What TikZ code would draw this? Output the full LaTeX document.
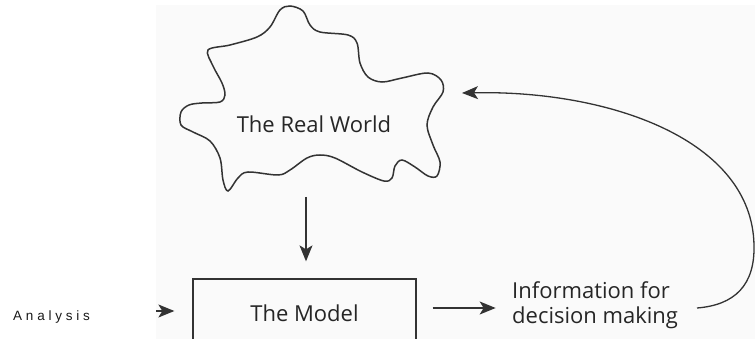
\documentclass[tikz,border=0pt]{standalone}
\usepackage{fontspec}
\setmainfont{Open Sans}
\newfontfamily\anfont[LetterSpace=28]{Liberation Sans}
\usetikzlibrary{arrows.meta}
\begin{document}
\begin{tikzpicture}[x=1pt,y=-1pt,
  ink/.style={draw=black!80, line width=1.3pt},
  arr/.style={ink, -{Stealth[length=16pt,width=13pt,inset=4pt]}},
  lbl/.style={font=\fontsize{22}{25}\selectfont, text=black!85, inner sep=0pt}]
\useasboundingbox (0,0) rectangle (755,339);
\clip (0,0) rectangle (755,339);
\fill[black!2] (156,5) rectangle (755,339);
% cloud
\draw[ink, line width=1.5pt] plot[smooth cycle, tension=0.55] coordinates {
 (290,6) (303,11) (310,25) (320,32) (348,35) (357,43) (360,63) (368,77)
 (382,82) (402,78) (428,73) (441,80) (443,92) (433,107) (427,125) (433,145)
 (440,162) (437,176) (428,176) (415,167) (402,160) (395,166) (392,178)
 (384,181) (362,172) (335,158) (320,155) (307,158) (290,170) (278,175)
 (248,172) (238,178) (228,191) (223,180) (220,158) (210,141) (193,132)
 (181,125) (181,112) (189,105) (202,103) (220,102) (225,95) (222,83)
 (213,66) (208,50) (230,45) (257,37) (270,27) (280,10)};
\node[lbl] (real) at (314,124) {The Real World};
% model
\node[lbl, draw=black!80, line width=1.3pt, minimum width=223pt, minimum height=68pt] (model) at (304.5,313) {The Model};
% info
\node[lbl, align=left, anchor=west] (info) at (512,305) {Information for\\decision making};
% analysis
\node[font=\anfont\fontsize{13.5}{16}\selectfont, text=black!90, anchor=base west, inner sep=0pt] (anal) at (13,320) {Analysis};
% connectors
\coordinate (rwbot) at (306,197);
\draw[arr, shorten >=17pt] (rwbot) -- (rwbot |- model.north);
\coordinate (ain) at (156,311);
\draw[arr, shorten >=18pt] (ain) -- (ain -| model.west);
\draw[arr] (model.east) ++(16,-5) -- ++(63,0);
\coordinate (fbs) at (697,308);
\coordinate (fbe) at (462,93);
\draw[arr] (fbs) .. controls (735,305) and (755,285) .. (754,245)
  .. controls (752,140) and (610,90) .. (fbe);
\end{tikzpicture}
\end{document}
